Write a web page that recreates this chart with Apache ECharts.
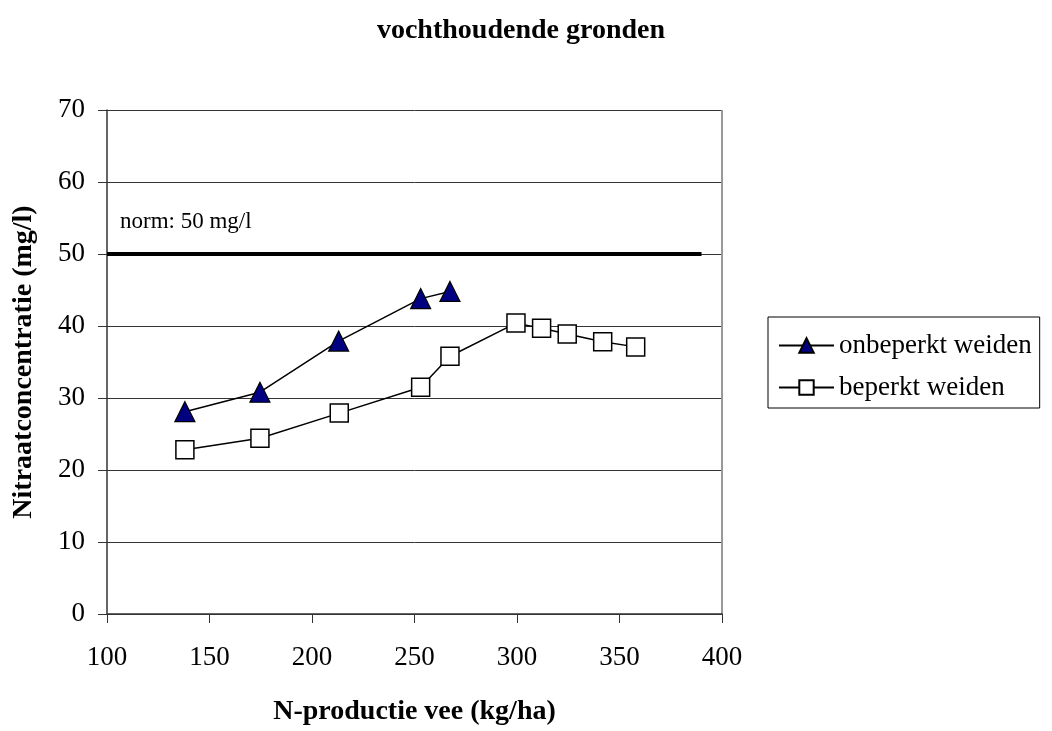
<!DOCTYPE html>
<html>
<head>
<meta charset="utf-8">
<script src="https://cdn.jsdelivr.net/npm/echarts@6/dist/echarts.min.js"></script>
<style>
  html, body { margin: 0; padding: 0; background: #fff; }
  #chart { width: 1052px; height: 731px; }
</style>
</head>
<body>
<div id="chart"></div>
<script>
// N-productie vee (kg/ha) against nitraatconcentratie (mg/l)
const onbeperktX = [138, 174.6, 213, 253, 267.3];
const onbeperktY = [28.1, 30.8, 37.9, 43.8, 44.8];
const beperktX = [138, 174.6, 213.3, 253, 267.3, 299.5, 312, 324.5, 341.8, 357.9];
const beperktY = [22.8, 24.4, 27.9, 31.5, 35.8, 40.4, 39.7, 38.9, 37.8, 37.1];
const normX = [100, 390];
const normY = [50, 50];
const normLabel = 'norm: 50 mg/l';

const FONT = '"Liberation Serif", "Times New Roman", serif';

const pairs = (xs, ys) => xs.map((x, i) => [x, ys[i]]);

const chart = echarts.init(document.getElementById('chart'));
chart.setOption({
  animation: false,
  backgroundColor: '#fff',
  title: {
    text: 'vochthoudende gronden',
    left: 516, top: 12, textAlign: 'center',
    textStyle: { fontFamily: FONT, fontSize: 28, fontWeight: 'bold', color: '#000' }
  },
  grid: { left: 107, right: 330, top: 110, bottom: 117 },
  legend: {
    orient: 'vertical',
    left: 768, top: 317,
    padding: [15, 8, 7, 10],
    itemGap: 15,
    itemWidth: 55, itemHeight: 18,
    borderColor: '#000', borderWidth: 1,
    textStyle: { fontFamily: FONT, fontSize: 27, color: '#000' },
    data: ['onbeperkt weiden', 'beperkt weiden']
  },
  xAxis: {
    type: 'value', min: 100, max: 400, interval: 50,
    name: 'N-productie vee (kg/ha)', nameLocation: 'middle', nameGap: 84,
    nameTextStyle: { fontFamily: FONT, fontSize: 28, fontWeight: 'bold', color: '#000' },
    axisLine: { show: true, onZero: false, lineStyle: { color: '#333', width: 1.5 } },
    axisTick: { show: true, length: 9, lineStyle: { color: '#333' } },
    axisLabel: { fontFamily: FONT, fontSize: 27, color: '#000', margin: 30 },
    splitLine: { show: false }
  },
  yAxis: {
    type: 'value', min: 0, max: 70, interval: 10,
    name: 'Nitraatconcentratie (mg/l)', nameLocation: 'middle', nameGap: 69,
    nameTextStyle: { fontFamily: FONT, fontSize: 28, fontWeight: 'bold', color: '#000' },
    axisLine: { show: true, lineStyle: { color: '#333', width: 1.5 } },
    axisTick: { show: true, length: 9, lineStyle: { color: '#333' } },
    axisLabel: { fontFamily: FONT, fontSize: 27, color: '#000', margin: 22 },
    splitLine: { show: true, lineStyle: { color: '#333', width: 1 } }
  },
  series: [
    {
      name: 'norm', type: 'line', data: pairs(normX, normY),
      symbol: 'none', silent: true,
      lineStyle: { color: '#000', width: 4 },
      z: 3
    },
    {
      name: 'onbeperkt weiden', type: 'line', data: pairs(onbeperktX, onbeperktY),
      symbol: 'triangle', symbolSize: 20,
      itemStyle: { color: '#000080', borderColor: '#000', borderWidth: 1.2 },
      lineStyle: { color: '#000', width: 1.5 },
      z: 4
    },
    {
      name: 'beperkt weiden', type: 'line', data: pairs(beperktX, beperktY),
      symbol: 'rect', symbolSize: 18,
      itemStyle: { color: '#fff', borderColor: '#000', borderWidth: 1.5 },
      lineStyle: { color: '#000', width: 1.5 },
      z: 5
    }
  ]
});

// right edge of the plot area, and the norm caption above the 50 mg/l line
const gridRect = chart.getModel().getComponent('grid').coordinateSystem.getRect();
const capPos = chart.convertToPixel({ gridIndex: 0 }, [normX[0], normY[0]]);
chart.setOption({
  graphic: [
    {
      type: 'line', silent: true,
      shape: { x1: gridRect.x + gridRect.width, y1: gridRect.y, x2: gridRect.x + gridRect.width, y2: gridRect.y + gridRect.height },
      style: { stroke: '#999', lineWidth: 2 }
    },
    {
      type: 'text', silent: true,
      x: capPos[0] + 13, y: capPos[1] - 32,
      style: { text: normLabel, font: '23px ' + FONT, fill: '#000', textVerticalAlign: 'middle' }
    }
  ]
});
</script>
</body>
</html>
